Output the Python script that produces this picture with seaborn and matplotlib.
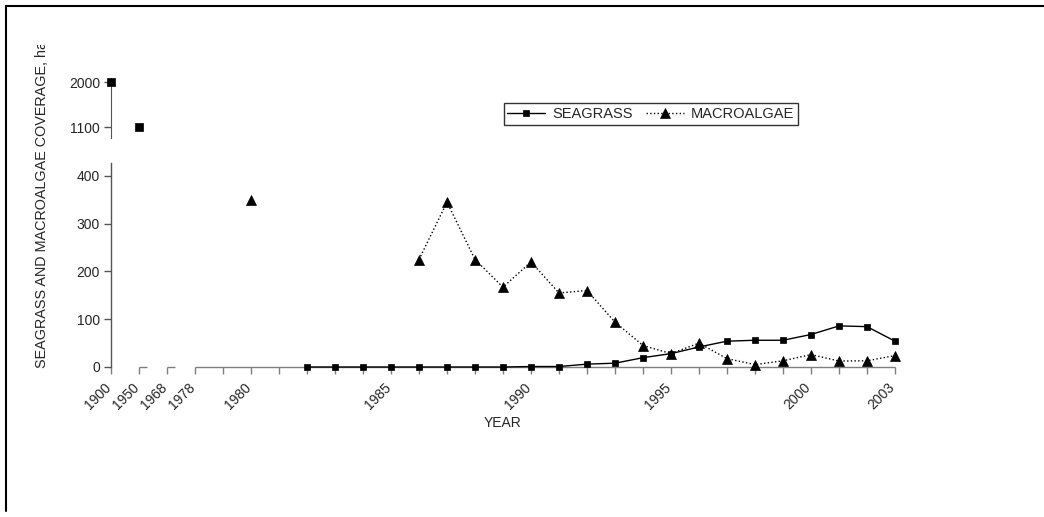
import matplotlib
matplotlib.use("Agg")
import matplotlib.pyplot as plt
from matplotlib.lines import Line2D
from matplotlib.transforms import Bbox, ScaledTranslation
import numpy as np
import pandas as pd
import seaborn as sns

# ---- data ----
categories = ["1900", "1950", "1968", "1978", "", "1980", "", "", "", "",
              "1985", "", "", "", "", "1990", "", "", "", "",
              "1995", "", "", "", "", "2000", "", "", "2003"]
seagrass = [2000, 1100, None, None, None, None, None,
            0, 0, 0, 0, 0, 0, 0, 0,
            1, 1, 6, 8, 19.5, 28, 42, 54, 56, 56, 68, 86, 84.5, 54]
macroalgae = [None, None, None, None, None, 350, None, None, None, None, None,
              225, 345, 225, 167, 220, 155, 160, 94, 45, 28, 50, 17.5, 5, 13, 26, 12.5, 13, 24]
break_value = 800  # values above this go on the upper (broken) axis

sns.set_style("white")
plt.rcParams["font.family"] = ["Liberation Sans", "DejaVu Sans"]
plt.rcParams["font.size"] = 10

W, H = 1044, 517
fig = plt.figure(figsize=(W / 100, H / 100), dpi=100)

def fx(px):
    return px / W

def fy(py):
    return 1 - py / H

left, right = 111, 895
ax = fig.add_axes([fx(left), fy(367), fx(right - left), (367 - 163) / H])
axu = fig.add_axes([fx(left), fy(138), fx(right - left), (138 - 78) / H])

AXIS_GRAY = "#7f7f7f"
YAX_GRAY = "#555555"


def runs(values):
    out, cur = [], []
    for i, v in enumerate(values):
        if v is None:
            if cur:
                out.append(cur)
            cur = []
        else:
            cur.append((i, v))
    if cur:
        out.append(cur)
    return out


def draw(values, marker, ls, ms_low, ms_high):
    for run in runs(values):
        hi = [(i, v) for i, v in run if v > break_value]
        lo = [(i, v) for i, v in run if v <= break_value]
        for pts, a, ms in ((lo, ax, ms_low), (hi, axu, ms_high)):
            if not pts:
                continue
            if a is axu:
                groups = [[p] for p in pts]
            else:
                groups = [pts]
            for g in groups:
                df = pd.DataFrame(g, columns=["x", "y"])
                sns.lineplot(data=df, x="x", y="y", ax=a, color="black",
                             marker=marker, markersize=ms, markeredgewidth=0.5,
                             markeredgecolor="black", linestyle=ls, lw=1,
                             clip_on=False, legend=False, zorder=5)


draw(seagrass, "s", "-", 4.6, 5.6)
draw(macroalgae, "^", ":", 6.8, 6.8)

# ---- lower axis ----
ax.set_xlim(0, len(categories) - 1)
ax.set_ylim(0, 427)
ax.set_yticks([0, 100, 200, 300, 400])
ax.set_xticks(range(len(categories)))
ax.set_xticklabels([])
ax.tick_params(axis="x", direction="out", length=5, width=1, color=AXIS_GRAY)
ax.tick_params(axis="y", direction="out", length=5, width=1, color=YAX_GRAY,
               pad=3, labelsize=10, left=True)
ax.xaxis.get_major_ticks()[0].tick1line.set_visible(False)
ax.xaxis.set_ticks_position("bottom")
# rotated category labels, anchored below each tick
lab_off = ScaledTranslation(-2.5 / 100, -18.5 / 100, fig.dpi_scale_trans)
for i, lab in enumerate(categories):
    if lab:
        ax.text(i, 0, lab, transform=ax.transData + lab_off, rotation=45,
                rotation_mode="anchor", ha="right", va="center", fontsize=10,
                clip_on=False)
ax.set_xlabel("")
ax.set_ylabel("")
for s in ("top", "right", "bottom"):
    ax.spines[s].set_visible(False)
ax.spines["left"].set_color(YAX_GRAY)
ax.spines["left"].set_linewidth(1)
# broken x axis line
ax.hlines([0, 0, 0], [1, 2, 3], [1.3, 2.3, len(categories) - 1], color=AXIS_GRAY,
          lw=1, clip_on=False, zorder=1)
ax.patch.set_alpha(0)

# ---- upper axis ----
axu.set_xlim(0, len(categories) - 1)
axu.set_ylim(886, 2086)
axu.set_yticks([1100, 2000])
axu.set_xticks([])
axu.tick_params(axis="y", direction="out", length=5, width=1, color=YAX_GRAY,
                pad=3, labelsize=10, left=True)
axu.set_xlabel("")
axu.set_ylabel("")
for s in ("top", "right", "bottom"):
    axu.spines[s].set_visible(False)
axu.spines["left"].set_color(YAX_GRAY)
axu.patch.set_alpha(0)

# ---- labels ----
fig.text(fx(503), fy(423), "YEAR", ha="center", va="center", fontsize=10)
yl = fig.text(fx(42.5), fy(368), "SEAGRASS AND MACROALGAE COVERAGE, ha",
              rotation=90, ha="center", va="bottom", fontsize=10.4)
yl.set_clip_box(Bbox.from_extents(0, 0, W, H - 45))
yl.set_clip_on(True)

# ---- legend ----
handles = [
    Line2D([], [], color="black", lw=1, ls="-", marker="s", markersize=4.6,
           markeredgewidth=0.5),
    Line2D([], [], color="black", lw=1, ls=":", marker="^", markersize=6.8,
           markeredgewidth=0.5),
]
leg = fig.legend(handles, ["SEAGRASS", "MACROALGAE"], loc="center",
                 bbox_to_anchor=(fx(650.5), fy(114)), ncol=2, frameon=True,
                 fancybox=False, edgecolor="black", handlelength=2.6,
                 handletextpad=0.48, columnspacing=0.9, borderpad=0.25,
                 fontsize=10.5, borderaxespad=0)
leg.get_frame().set_linewidth(1)

# ---- outer border (top & left) ----
fig.add_artist(Line2D([fx(6), fx(6)], [fy(6), fy(511)], color="black", lw=1.5,
                      transform=fig.transFigure))
fig.add_artist(Line2D([fx(6), 1], [fy(6), fy(6)], color="black", lw=1.5,
                      transform=fig.transFigure))

fig.savefig("out.png", dpi=100)
